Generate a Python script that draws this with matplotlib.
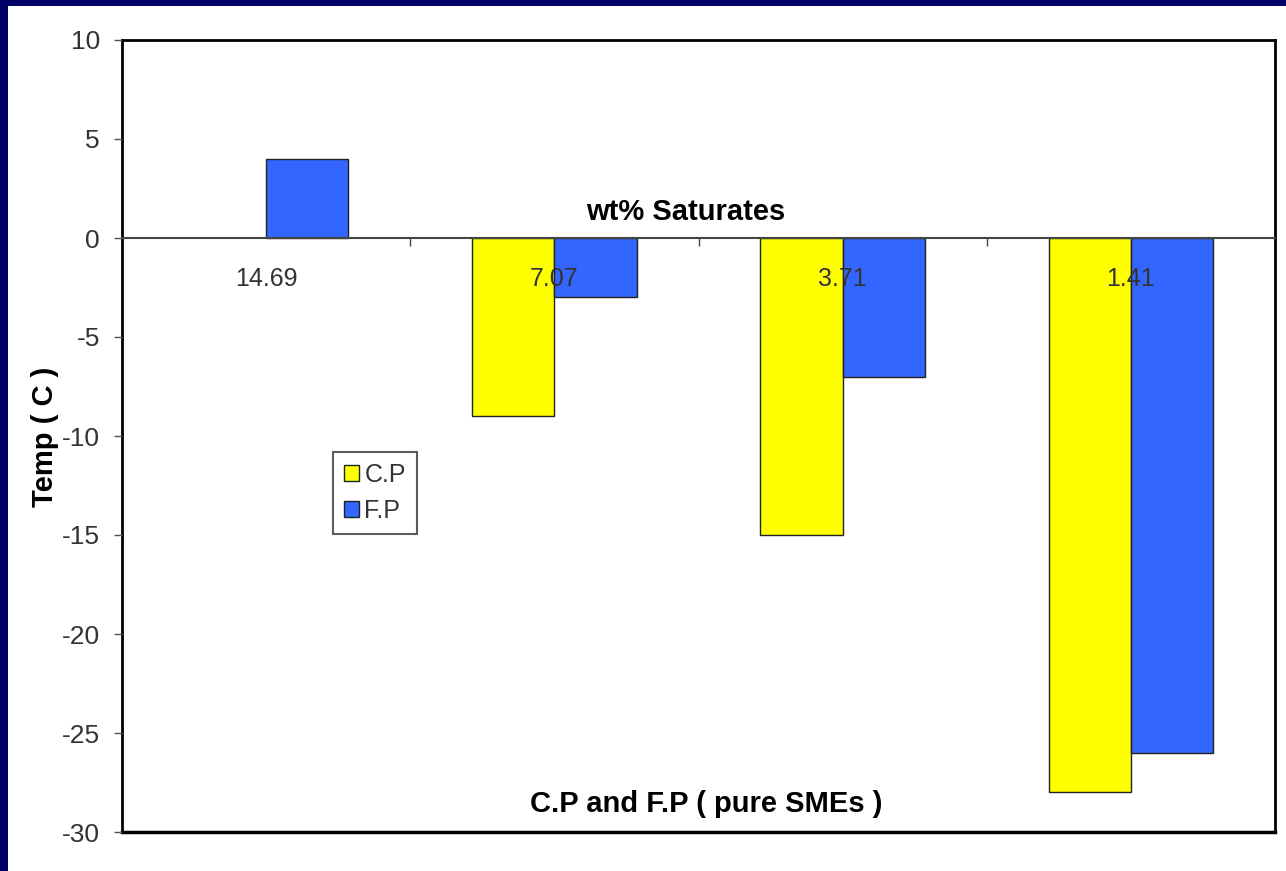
import matplotlib.pyplot as plt
from matplotlib.patches import Rectangle
import numpy as np

plt.rcParams['font.family'] = ['Liberation Sans', 'DejaVu Sans']
plt.rcParams['axes.unicode_minus'] = False

categories = ['14.69', '7.07', '3.71', '1.41']
cp = [np.nan, -9, -15, -28]
fp = [4, -3, -7, -26]

fig = plt.figure(figsize=(12.86, 8.71), dpi=100, facecolor='#000066')
# white slide area inside the navy border
fig.patches.append(Rectangle((8 / 1286, 0), 1, 1 - 6 / 871, transform=fig.transFigure,
                             facecolor='white', edgecolor='none', zorder=-10))

ax = fig.add_axes([122 / 1286, 1 - 832 / 871, 1153 / 1286, 792 / 871])
ax.set_zorder(5)
ax.set_axisbelow(False)
x = np.arange(len(categories))
w = 0.285
ax.bar(x - w / 2, cp, w, color='#FFFF00', edgecolor='#222222', linewidth=1, label='C.P', zorder=2)
ax.bar(x + w / 2, fp, w, color='#3366FF', edgecolor='#222222', linewidth=1, label='F.P', zorder=2)

ax.set_xlim(-0.5, len(categories) - 0.5)
ax.set_ylim(-30, 10)
ax.set_yticks(np.arange(-30, 11, 5))
ax.tick_params(axis='y', direction='out', length=6, width=1, pad=10,
               labelsize=19, labelcolor='#333333', color='#555555')

# category axis sits on the zero line
ax.spines['bottom'].set_position(('data', 0))
ax.spines['bottom'].set_color('#444444')
ax.spines['bottom'].set_linewidth(1.5)
for s in ['left', 'top', 'right']:
    ax.spines[s].set_linewidth(2)
ax.set_xticks(x[:-1] + 0.5)
ax.set_xticklabels([])
ax.set_xticks(x, minor=True)
ax.set_xticklabels(categories, minor=True)
ax.tick_params(axis='x', which='major', direction='out', length=6, width=1, color='#444444')
ax.tick_params(axis='x', which='minor', length=0, pad=21, labelsize=18, labelcolor='#333333')

# bottom frame line of the plot area
ax.axhline(-30, color='black', linewidth=2.5, clip_on=False)

ax.text(0.489, 1.3, 'wt% Saturates', transform=ax.get_yaxis_transform(), ha='center',
        va='center', fontsize=21, fontweight='bold')
ax.text(0.507, -28.6, 'C.P and F.P ( pure SMEs )', transform=ax.get_yaxis_transform(),
        ha='center', va='center', fontsize=21, fontweight='bold')
fig.text(45 / 1286, 1 - 437 / 871, 'Temp ( C )', rotation=90, ha='center', va='center',
         fontsize=21, fontweight='bold')

leg = ax.legend(loc='upper left', bbox_to_anchor=((333 - 122) / 1153, (832 - 452) / 792),
                fontsize=18, frameon=True, fancybox=False, handlelength=0.6, handleheight=0.6,
                handletextpad=0.2, borderpad=0.45, labelspacing=0.45, borderaxespad=0)
leg.get_frame().set_edgecolor('#333333')
leg.get_frame().set_linewidth(1.5)
for t in leg.get_texts():
    t.set_color('#333333')

fig.savefig('out.png', dpi=100, facecolor=fig.get_facecolor())
